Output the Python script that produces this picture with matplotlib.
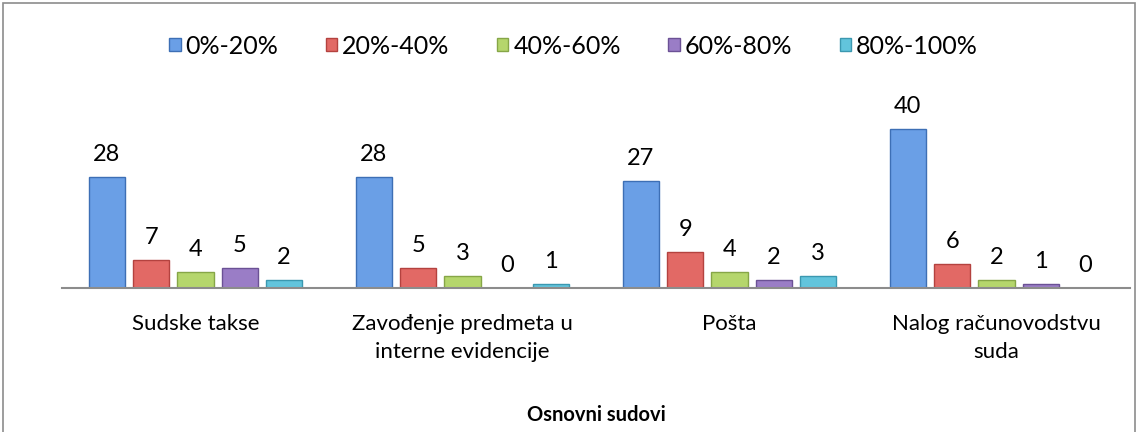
import matplotlib
matplotlib.use("Agg")
import matplotlib.pyplot as plt
from matplotlib.patches import Rectangle
import numpy as np

plt.rcParams['font.family'] = ['Lato', 'DejaVu Sans']

categories = ["Sudske takse", "Zavođenje predmeta u\ninterne evidencije", "Pošta", "Nalog računovodstvu\nsuda"]
series_names = ["0%-20%", "20%-40%", "40%-60%", "60%-80%", "80%-100%"]
s_0_20 = [28, 28, 27, 40]
s_20_40 = [7, 5, 9, 6]
s_40_60 = [4, 3, 4, 2]
s_60_80 = [5, 0, 2, 1]
s_80_100 = [2, 1, 3, 0]
series = [s_0_20, s_20_40, s_40_60, s_60_80, s_80_100]
x_title = "Osnovni sudovi"

faces = ["#6a9fe6", "#e26965", "#b5d66c", "#9a7dc6", "#62c4dc"]
edges = ["#3d6fb5", "#b4423f", "#86a647", "#6b5195", "#3b98b0"]

fig = plt.figure(figsize=(11.38, 4.32), dpi=100)
fig.patches.append(Rectangle((3/1138, -0.5), 1132/1138, 1.5 - 3/432, transform=fig.transFigure,
                             fill=False, edgecolor="#8c8c8c", linewidth=1.2))
ax = fig.add_axes([62/1138, 1 - 288/432, (1130 - 62)/1138, (288 - 81)/432])

x = np.arange(len(categories))
step = 0.166
width = 0.135
for i, (vals, name) in enumerate(zip(series, series_names)):
    pos = x + (i - 2) * step
    ax.bar(pos, vals, width, color=faces[i], edgecolor=edges[i], linewidth=1.0, label=name, zorder=2)
    for p, v in zip(pos, vals):
        ax.text(p, v + 3.0, str(v), ha="center", va="bottom", fontsize=17, color="#000000")

ax.set_xlim(-0.5, len(categories) - 0.5)
ax.set_ylim(0, 52)
for s in ["top", "right", "left"]:
    ax.spines[s].set_visible(False)
ax.spines["bottom"].set_color("#8c8c8c")
ax.spines["bottom"].set_linewidth(1.5)
ax.set_yticks([])
ax.set_xticks(x)
ax.set_xticklabels(categories, fontsize=16, linespacing=1.45)
ax.tick_params(axis="x", length=0, pad=19)
ax.set_xlabel(x_title, fontsize=14.5, fontweight="bold", labelpad=31)

leg = ax.legend(loc="center", bbox_to_anchor=(0.479, 1.0 + (81 - 46) / 207), ncol=5, frameon=False,
                fontsize=18, handlelength=0.45, handleheight=0.45, handletextpad=0.2, columnspacing=1.9)

fig.savefig("out.png", dpi=100)
